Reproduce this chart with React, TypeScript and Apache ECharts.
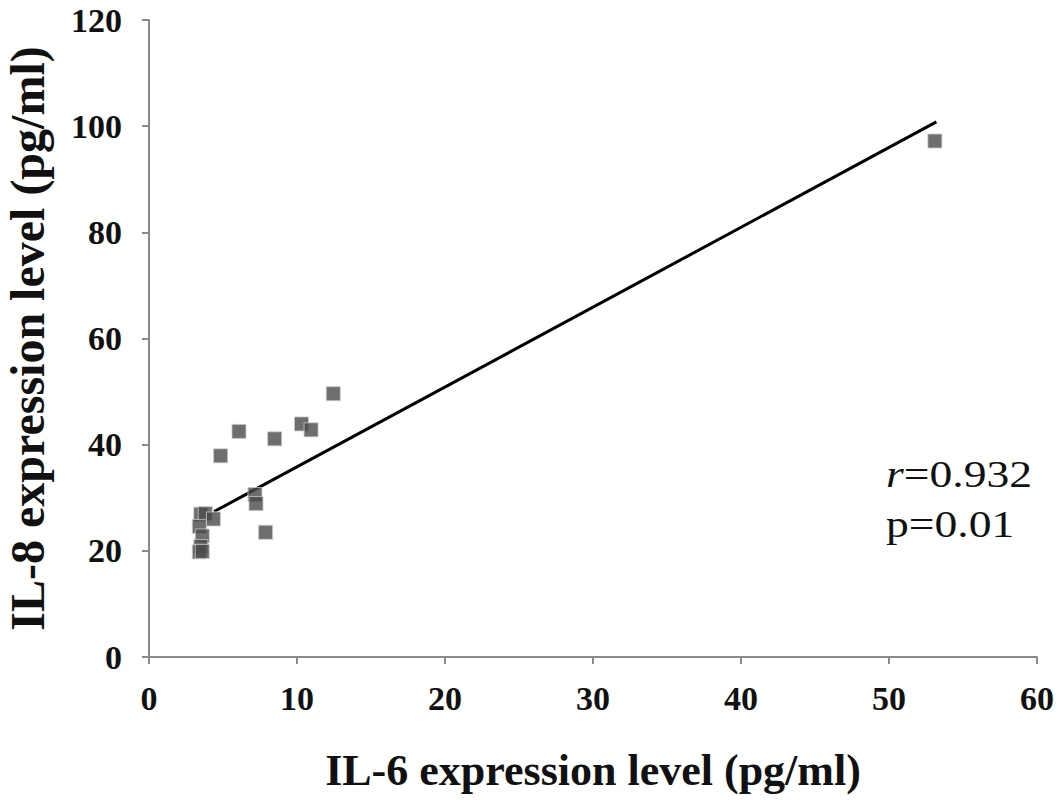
import { useEffect, useRef } from "react";
import * as echarts from "echarts";

const il6Values = [3.5, 3.8, 4.35, 3.4, 3.6, 3.5, 3.4, 3.6, 4.84, 6.08, 7.16, 7.23, 7.88, 8.49, 10.3, 10.95, 12.45, 53.1];
const il8Values = [26.9, 27.0, 26.0, 24.6, 22.8, 20.8, 19.8, 19.9, 37.9, 42.5, 30.6, 28.9, 23.5, 41.1, 43.9, 42.8, 49.6, 97.2];
const trendX = [4.4, 53.2];
const trendY = [27.4, 100.8];
const statLines = ["{i|r}=0.932", "p=0.01"];

const serif = "'Liberation Serif', 'DejaVu Serif', serif";
const axisGray = "#8a8a8a";

function App() {
    const chartRef = useRef<HTMLDivElement>(null);

    useEffect(() => {
        if (!chartRef.current) return;
        const chart = echarts.init(chartRef.current, undefined, { renderer: "svg" });

        const axisCommon = {
            type: "value" as const,
            nameLocation: "middle" as const,
            splitLine: { show: false },
            axisLine: { show: true, lineStyle: { color: axisGray, width: 2 } },
            axisTick: { show: true, inside: false, length: 7, lineStyle: { color: axisGray, width: 2 } },
            axisLabel: {
                fontFamily: serif,
                fontWeight: "bold" as const,
                fontSize: 34,
                color: "#111",
                margin: 27
            },
            nameTextStyle: {
                fontFamily: serif,
                fontWeight: "bold" as const,
                fontSize: 44,
                color: "#111"
            }
        };

        chart.setOption({
            animation: false,
            backgroundColor: "#fff",
            grid: {
                left: 149,
                right: 26,
                top: 20,
                bottom: 143,
                containLabel: false,
                outerBoundsMode: "none"
            },
            xAxis: {
                ...axisCommon,
                min: 0,
                max: 60,
                interval: 10,
                name: "IL-6 expression level (pg/ml)",
                nameGap: 91,
                axisLabel: { ...axisCommon.axisLabel, margin: 24 }
            },
            yAxis: {
                ...axisCommon,
                min: 0,
                max: 120,
                interval: 20,
                name: "IL-8 expression level (pg/ml)",
                nameGap: 98,
                nameTextStyle: { ...axisCommon.nameTextStyle, fontSize: 48 }
            },
            series: [
                {
                    type: "line",
                    data: trendX.map((x, i) => [x, trendY[i]]),
                    symbol: "none",
                    lineStyle: { color: "#000", width: 3 },
                    z: 2
                },
                {
                    type: "scatter",
                    data: il6Values.map((x, i) => [x, il8Values[i]]),
                    symbol: "rect",
                    symbolSize: 14,
                    itemStyle: { color: "#4a4a4a", borderColor: "#c8c8c8", borderWidth: 1 },
                    z: 3
                }
            ],
            graphic: statLines.map((t, i) => ({
                type: "text",
                x: 886,
                y: 455 + i * 50,
                scaleX: 1.2,
                style: {
                    text: t,
                    fontFamily: serif,
                    fontSize: 38,
                    fill: "#111",
                    verticalAlign: "top",
                    rich: {
                        i: { fontFamily: serif, fontSize: 38, fontStyle: "italic", fill: "#111" }
                    }
                }
            }))
        });

        return () => {
            chart.dispose();
        };
    }, []);

    return (
        <div
            ref={chartRef}
            style={{ position: "fixed", left: 0, top: 0, width: "1063px", height: "800px" }}
        />
    );
}

export default App;
